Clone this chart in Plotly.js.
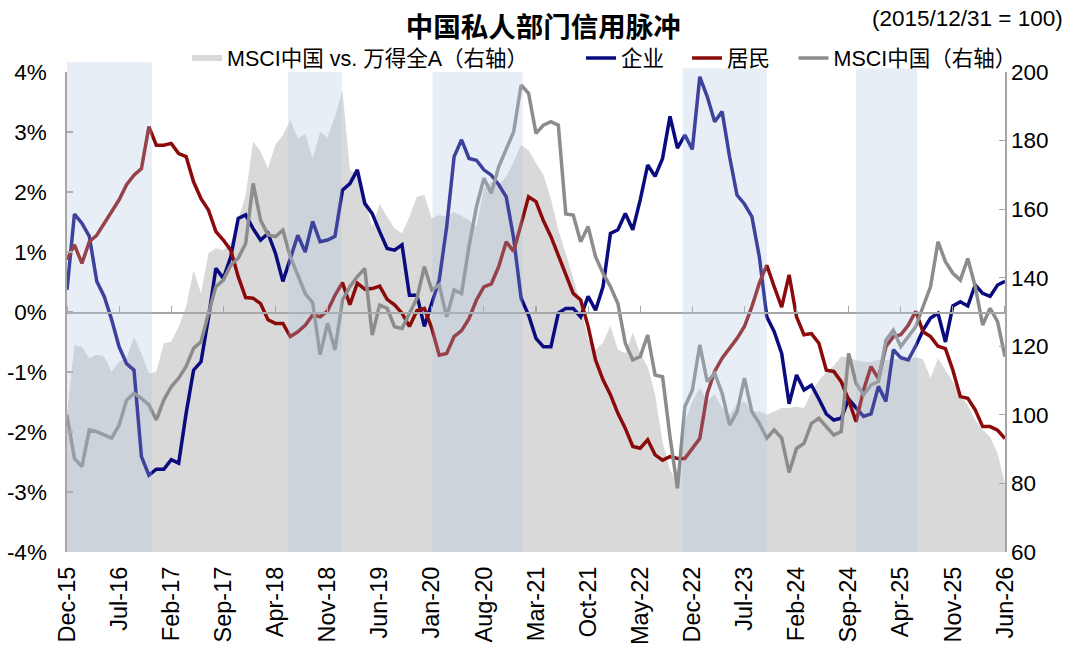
<!DOCTYPE html>
<html>
<head>
<meta charset="utf-8">
<script src="https://cdn.plot.ly/plotly-3.0.1.min.js"></script>
<style>
html,body{margin:0;padding:0;background:#fff;}
#chart{width:1080px;height:660px;}
</style>
</head>
<body>
<div id="chart"></div>
<script>
// Month labels (Dec-15 .. Jun-26), one per data point
const monthNames = ['Jan','Feb','Mar','Apr','May','Jun','Jul','Aug','Sep','Oct','Nov','Dec'];
const months = [];
for (let k = 0; k <= 126; k++) {
  const m = (11 + k) % 12;
  const y = 15 + Math.floor((11 + k) / 12);
  months.push(monthNames[m] + '-' + y);
}
const xIdx = months.map((_, i) => i);

// Tick labels (every 7 months)
const xTickLabels = ['Dec-15','Jul-16','Feb-17','Sep-17','Apr-18','Nov-18','Jun-19','Jan-20','Aug-20','Mar-21','Oct-21','May-22','Dec-22','Jul-23','Feb-24','Sep-24','Apr-25','Nov-25','Jun-26'];
const leftTickVals = [-4,-3,-2,-1,0,1,2,3,4];
const leftTickLabels = ['-4%','-3%','-2%','-1%','0%','1%','2%','3%','4%'];
const rightTickVals = [60,80,100,120,140,160,180,200];

// 企业 credit impulse (%)
const corporate = [0.37,1.63,1.48,1.26,0.51,0.26,-0.13,-0.58,-0.86,-0.97,
-2.41,-2.72,-2.62,-2.62,-2.46,-2.52,-1.69,-0.97,-0.83,-0.10,
0.73,0.56,0.92,1.56,1.62,1.39,1.20,1.31,0.98,0.51,
0.89,1.28,1.00,1.51,1.17,1.20,1.26,2.03,2.14,2.37,
1.81,1.64,1.34,1.06,1.03,1.12,0.28,0.28,-0.24,0.14,
0.53,1.42,2.59,2.87,2.56,2.53,2.37,2.28,2.12,1.92,
1.23,0.23,-0.05,-0.44,-0.58,-0.58,-0.02,0.06,0.06,-0.08,
0.26,0.03,0.42,1.31,1.37,1.64,1.37,1.87,2.45,2.26,
2.56,3.26,2.73,2.95,2.71,3.92,3.59,3.17,3.34,2.59,
1.95,1.80,1.59,0.92,-0.08,-0.33,-0.69,-1.53,-1.05,-1.30,
-1.22,-1.45,-1.70,-1.80,-1.77,-1.45,-1.60,-1.74,-1.70,-1.24,
-1.49,-0.63,-0.76,-0.80,-0.57,-0.30,-0.10,-0.02,-0.50,0.10,
0.17,0.10,0.45,0.31,0.26,0.45,0.51];

// 居民 credit impulse (%)
const household = [0.87,1.12,0.81,1.17,1.28,1.48,1.67,1.87,2.12,2.28,
2.39,3.09,2.78,2.78,2.81,2.64,2.59,2.17,1.89,1.70,
1.34,1.20,1.03,0.59,0.24,0.23,0.14,-0.13,-0.19,-0.19,
-0.41,-0.33,-0.22,-0.05,-0.08,0.02,0.28,0.49,0.12,0.48,
0.38,0.39,0.43,0.21,0.12,-0.02,-0.24,0.02,0.06,-0.27,
-0.72,-0.69,-0.41,-0.31,-0.11,0.20,0.42,0.47,0.76,1.17,
1.01,1.48,1.92,1.84,1.52,1.26,0.95,0.62,0.31,0.20,
-0.24,-0.80,-1.13,-1.38,-1.69,-1.94,-2.24,-2.27,-2.13,-2.38,
-2.47,-2.41,-2.44,-2.44,-2.27,-2.11,-1.36,-0.99,-0.77,-0.61,
-0.44,-0.24,0.09,0.48,0.78,0.42,0.08,0.62,-0.08,-0.38,
-0.36,-0.52,-0.97,-0.99,-1.16,-1.47,-1.83,-1.30,-0.91,-1.11,
-0.58,-0.41,-0.38,-0.22,0.01,-0.33,-0.41,-0.57,-0.61,-0.97,
-1.41,-1.44,-1.63,-1.91,-1.91,-1.97,-2.11];

// MSCI中国 index (2015/12/31 = 100)
const msciChina = [100,87.3,84.9,95.6,95.1,94.1,93.2,97.0,104.3,106.3,
104.8,102.9,98.5,104.3,108.2,110.7,114.1,119.4,121.3,129.6,
137.4,139.3,143.7,145.7,150.0,167.5,156.8,152.5,152.0,153.9,
146.1,140.8,135.4,132.7,117.5,126.7,118.9,133.5,137.4,140.3,
142.7,123.3,132.0,131.1,125.7,125.2,129.6,134.0,143.2,136.4,
137.9,128.6,136.4,135.4,149.1,160.7,169.0,164.6,172.4,177.2,
182.6,196.2,193.8,182.1,184.5,185.5,184.5,158.6,158.3,150.5,
154.9,146.1,141.3,137.4,132.5,120.9,116.0,117.0,123.3,111.6,
111.1,93.6,78.6,102.4,107.2,120.4,109.7,112.1,106.3,97.0,
100.9,110.7,100.9,97.5,93.2,95.6,93.2,83.2,90.2,91.7,
97.5,99.0,96.6,94.1,95.1,117.9,109.2,105.8,108.7,109.7,
121.8,124.7,119.9,122.8,125.7,131.6,137.4,150.5,144.7,141.3,
139.3,145.6,137.4,126.2,131.1,127.2,117.0];

// MSCI中国 vs. 万得全A (relative index)
const msciVsWind = [100,120.4,119.9,116.5,117.5,117.0,112.6,115.5,116.5,122.8,
117.9,112.1,112.6,120.9,121.3,125.7,131.6,142.2,135.4,147.1,
148.6,148.1,150.0,156.8,164.1,179.7,176.8,171.9,178.7,181.6,
186.0,180.6,182.0,174.8,182.6,180.9,187.0,194.7,171.4,170.0,
162.7,154.9,161.5,157.8,154.4,152.9,157.8,163.6,164.1,157.3,
158.3,157.8,159.2,158.0,156.8,154.9,166.1,168.0,167.1,169.5,
173.8,178.7,177.2,173.4,170.0,163.0,154.0,147.0,140.0,132.0,
122.0,119.0,121.0,126.0,119.0,118.0,124.0,118.0,114.0,106.0,
92.0,84.0,80.0,98.0,104.0,108.0,104.0,106.0,102.0,100.0,
103.0,104.0,101.0,101.0,100.0,101.0,102.0,102.0,102.4,102.0,
106.5,110.0,112.5,114.3,117.0,116.8,116.0,115.5,115.5,116.0,
116.0,116.2,116.3,116.5,116.8,116.2,110.7,116.5,113.1,109.7,
105.8,102.9,98.5,95.6,93.6,88.8,80.0];

// Shaded periods (month index start, end)
const bandStart = [0, 29.7, 49.1, 82.7, 106.0];
const bandEnd   = [11.4, 36.9, 61.2, 94.0, 114.2];
const bandTop   = [1.021, 1.0, 1.0, 1.008, 1.008];

const FONT = 'Liberation Sans, Arial, Noto Sans CJK SC, sans-serif';
const TICK_SIZE = 22.5;
const tickVals7 = xTickLabels.map((_, k) => k * 7);

const traces = [
  {x: xIdx, y: msciVsWind, name: 'MSCI中国 vs. 万得全A（右轴）', type: 'scatter', mode: 'none',
   fill: 'tozeroy', fillcolor: '#d9d9d9', yaxis: 'y', xaxis: 'x', hoverinfo: 'skip', legend: 'legend'},
  {x: xIdx, y: corporate, name: '企业', type: 'scatter', mode: 'lines',
   line: {color: '#0b0b80', width: 3.5}, yaxis: 'y2', xaxis: 'x', legend: 'legend2'},
  {x: xIdx, y: household, name: '居民', type: 'scatter', mode: 'lines',
   line: {color: '#8b0a0a', width: 3.5}, yaxis: 'y2', xaxis: 'x', legend: 'legend3'},
  {x: xIdx, y: msciChina, name: 'MSCI中国（右轴）', type: 'scatter', mode: 'lines',
   line: {color: '#8c8c8c', width: 3.5}, yaxis: 'y3', xaxis: 'x', legend: 'legend4'},
  {x: [null], y: [null], xaxis: 'x2', yaxis: 'y2', showlegend: false, hoverinfo: 'skip', type: 'scatter', mode: 'lines'}
];

const shapes = bandStart.map((s, k) => ({
  type: 'rect', xref: 'x', yref: 'paper', x0: s, x1: bandEnd[k], y0: 0, y1: bandTop[k],
  fillcolor: 'rgba(180,200,225,0.3)', line: {width: 0}, layer: 'above'
}));

function legendAt(xp) {
  return {orientation: 'h', x: xp, xanchor: 'left', y: 1.029, yanchor: 'middle',
          font: {family: FONT, size: 21.5, color: '#000'}, itemwidth: 30,
          bgcolor: 'rgba(0,0,0,0)', borderwidth: 0};
}

const layout = {
  width: 1080, height: 660,
  margin: {l: 67, r: 75, t: 72, b: 108, pad: 0},
  paper_bgcolor: '#ffffff', plot_bgcolor: 'rgba(0,0,0,0)',
  font: {family: FONT, size: TICK_SIZE, color: '#000'},
  title: {text: '<b>中国私人部门信用脉冲</b>', x: 0.503, xref: 'container', y: 0.958, yref: 'container',
          yanchor: 'middle', font: {family: 'Noto Sans CJK SC, sans-serif', size: 27.5, color: '#000'}},
  showlegend: true,
  legend: legendAt(0.128),
  legend2: legendAt(0.548),
  legend3: legendAt(0.661),
  legend4: legendAt(0.7745),
  xaxis: {range: [0, 126], tickvals: tickVals7, ticktext: xTickLabels, tickangle: -90,
          showline: false, showgrid: false, zeroline: false, ticks: '', ticklen: 0, ticklabelstandoff: 9,
          tickfont: {family: FONT, size: 23.5, color: '#000'}, fixedrange: true},
  xaxis2: {range: [0, 126], overlaying: 'x', anchor: 'free', position: 0.5, side: 'top',
           tickvals: tickVals7, showticklabels: false, ticks: 'outside', ticklen: 6, tickwidth: 1.2,
           tickcolor: '#a6a6a6', showline: true, linecolor: '#a6a6a6', linewidth: 1.6,
           showgrid: false, zeroline: false},
  yaxis: {range: [60, 200], side: 'right', tickvals: rightTickVals, showline: true, linecolor: '#a6a6a6',
          linewidth: 1.6, ticks: 'inside', ticklen: 6, tickcolor: '#a6a6a6', tickwidth: 1.2,
          showgrid: false, zeroline: false, tickfont: {family: FONT, size: TICK_SIZE, color: '#000'}},
  yaxis2: {range: [-4, 4], overlaying: 'y', side: 'left', tickvals: leftTickVals, ticktext: leftTickLabels,
           showline: true, linecolor: '#a6a6a6', linewidth: 1.6, ticks: 'inside', ticklen: 6,
           tickcolor: '#a6a6a6', tickwidth: 1.2, showgrid: false, zeroline: false, ticklabelstandoff: 14,
           tickfont: {family: FONT, size: TICK_SIZE, color: '#000'}},
  yaxis3: {range: [60, 200], overlaying: 'y', visible: false},
  shapes: shapes,
  annotations: [
    {text: '(2015/12/31 = 100)', xref: 'paper', yref: 'paper', x: 1.064, y: 1.112, xanchor: 'right', yanchor: 'middle',
     showarrow: false, font: {family: FONT, size: TICK_SIZE, color: '#000'}}
  ]
};

Plotly.newPlot('chart', traces, layout, {staticPlot: true, displayModeBar: false});
</script>
</body>
</html>
